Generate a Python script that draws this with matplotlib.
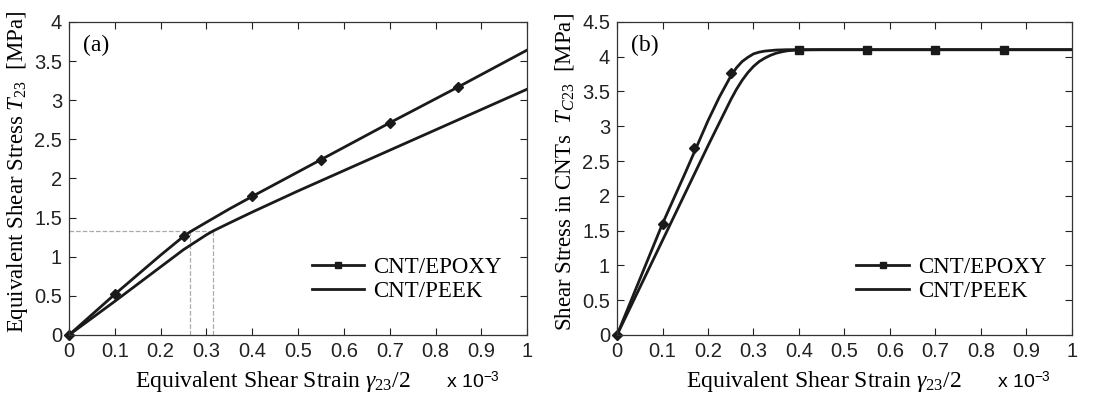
import matplotlib
matplotlib.use("Agg")
import matplotlib.pyplot as plt

# text fonts: serif labels, sans tick labels
plt.rcParams['font.family'] = 'Liberation Sans'
plt.rcParams['mathtext.fontset'] = 'custom'
plt.rcParams['mathtext.rm'] = 'Liberation Serif'
plt.rcParams['mathtext.it'] = 'Liberation Serif:italic'
plt.rcParams['mathtext.sf'] = 'Liberation Sans'

# ---- data (strain in 1e-3) ----
# (a) equivalent shear stress T23
a_epoxy_x = [0, 0.1, 0.15, 0.2, 0.25, 0.265, 0.3, 0.35, 0.4, 0.55, 0.7, 0.85, 1.0]
a_epoxy_y = [0, 0.52, 0.77, 1.02, 1.26, 1.32, 1.44, 1.61, 1.77, 2.24, 2.71, 3.17, 3.64]
a_epoxy_mx = [0, 0.1, 0.25, 0.4, 0.55, 0.7, 0.85]
a_epoxy_my = [0, 0.52, 1.26, 1.77, 2.24, 2.71, 3.17]
a_peek_x = [0, 0.1, 0.2, 0.25, 0.3, 0.315, 0.35, 0.4, 0.5, 0.6, 0.7, 0.8, 0.9, 1.0]
a_peek_y = [0, 0.43, 0.87, 1.09, 1.28, 1.33, 1.43, 1.57, 1.84, 2.10, 2.36, 2.62, 2.88, 3.14]
# dashed guide lines
guide_y = 1.33
guide_x = [0.265, 0.315]

# (b) shear stress in CNTs TC23
b_epoxy_x = [0, 0.05, 0.1, 0.15, 0.2, 0.225, 0.25, 0.2625, 0.275, 0.2875, 0.3,
             0.3125, 0.325, 0.35, 0.375, 0.4, 1.0]
b_epoxy_y = [0, 0.80, 1.60, 2.33, 3.08, 3.42, 3.72, 3.84, 3.93, 3.99, 4.04,
             4.065, 4.08, 4.095, 4.1, 4.1, 4.1]
b_epoxy_mx = [0, 0.1, 0.17, 0.25]
b_epoxy_my = [0, 1.60, 2.68, 3.76]
b_flat_mx = [0.4, 0.55, 0.7, 0.85]
b_flat_my = [4.1, 4.1, 4.1, 4.1]
b_peek_x = [0, 0.05, 0.1, 0.15, 0.2, 0.225, 0.25, 0.2625, 0.275, 0.2875, 0.3, 0.3125,
            0.325, 0.3375, 0.35, 0.3625, 0.375, 0.4, 0.45, 1.0]
b_peek_y = [0, 0.68, 1.36, 2.04, 2.72, 3.05, 3.38, 3.53, 3.66, 3.77, 3.86, 3.93,
            3.98, 4.02, 4.05, 4.07, 4.085, 4.097, 4.1, 4.1]

xticks = [0, 0.1, 0.2, 0.3, 0.4, 0.5, 0.6, 0.7, 0.8, 0.9, 1]
xticklabels = ['0', '0.1', '0.2', '0.3', '0.4', '0.5', '0.6', '0.7', '0.8', '0.9', '1']

fig = plt.figure(figsize=(10.96, 4.05), dpi=100)
axa = fig.add_axes([0.063, 0.173, 0.418, 0.773])
axb = fig.add_axes([0.563, 0.173, 0.415, 0.773])

lc = '#1a1a1a'
serif = 'Liberation Serif'

def style(ax, ylim, yticks, ylabels, xlab_x, mult_x):
    ax.set_xlim(0, 1)
    ax.set_ylim(*ylim)
    ax.set_xticks(xticks)
    ax.set_xticklabels(xticklabels)
    ax.set_yticks(yticks)
    ax.set_yticklabels(ylabels)
    ax.tick_params(direction='in', length=5, width=0.8, top=True, right=True,
                   labelsize=14.5, pad=5, colors='#222222')
    for s in ax.spines.values():
        s.set_linewidth(0.9)
        s.set_color('#333333')
    ax.set_xlabel(r'Equivalent Shear Strain $\gamma_{\mathit{23}}/\mathit{2}$',
                  fontsize=17, family=serif)
    ax.xaxis.set_label_coords(xlab_x, -0.11)
    ax.text(mult_x, -0.15, r'x 10$^{\mathsf{-3}}$', transform=ax.transAxes,
            ha='right', va='center', fontsize=14)
    ax.legend(loc='lower right', frameon=False, prop={'family': serif, 'size': 16.5},
              handlelength=2.3, handletextpad=0.4, labelspacing=0.1,
              bbox_to_anchor=(0.99, 0.04))

# panel (a)
axa.plot([0, guide_x[1]], [guide_y, guide_y], '--', color='#aaaaaa', lw=0.9)
for gx in guide_x:
    axa.plot([gx, gx], [0, guide_y], '--', color='#aaaaaa', lw=0.9)
axa.plot(a_epoxy_x, a_epoxy_y, color=lc, lw=2)
axa.plot(a_epoxy_mx, a_epoxy_my, 'D', color=lc, ms=5.5, clip_on=False)
axa.plot(a_peek_x, a_peek_y, color=lc, lw=2)
axa.plot([], [], '-s', color=lc, lw=2, ms=5, label='CNT/EPOXY')
axa.plot([], [], '-', color=lc, lw=2, label='CNT/PEEK')
style(axa, (0, 4), [0, 0.5, 1, 1.5, 2, 2.5, 3, 3.5, 4],
      ['0', '0.5', '1', '1.5', '2', '2.5', '3', '3.5', '4'], 0.445, 0.94)
axa.set_ylabel(r'Equivalent Shear Stress $\mathit{T}_{\mathit{23}}$  [MPa]',
               fontsize=16.5, family=serif)
axa.yaxis.set_label_coords(-0.086, 0.52)
axa.text(0.03, 0.925, '(a)', transform=axa.transAxes, family=serif, fontsize=17,
         va='center')

# panel (b)
axb.plot(b_epoxy_x, b_epoxy_y, color=lc, lw=2)
axb.plot(b_epoxy_mx, b_epoxy_my, 'D', color=lc, ms=5.5, clip_on=False)
axb.plot(b_flat_mx, b_flat_my, 's', color=lc, ms=5.5)
axb.plot(b_peek_x, b_peek_y, color=lc, lw=2)
axb.plot([], [], '-s', color=lc, lw=2, ms=5, label='CNT/EPOXY')
axb.plot([], [], '-', color=lc, lw=2, label='CNT/PEEK')
style(axb, (0, 4.5), [0, 0.5, 1, 1.5, 2, 2.5, 3, 3.5, 4, 4.5],
      ['0', '0.5', '1', '1.5', '2', '2.5', '3', '3.5', '4', '4.5'], 0.455, 0.955)
axb.set_ylabel(r'Shear Stress in CNTs  $\mathit{T}_{\mathit{C23}}$  [MPa]',
               fontsize=16.5, family=serif)
axb.yaxis.set_label_coords(-0.09, 0.52)
axb.text(0.03, 0.925, '(b)', transform=axb.transAxes, family=serif, fontsize=17,
         va='center')

fig.savefig('out.png', dpi=100)
